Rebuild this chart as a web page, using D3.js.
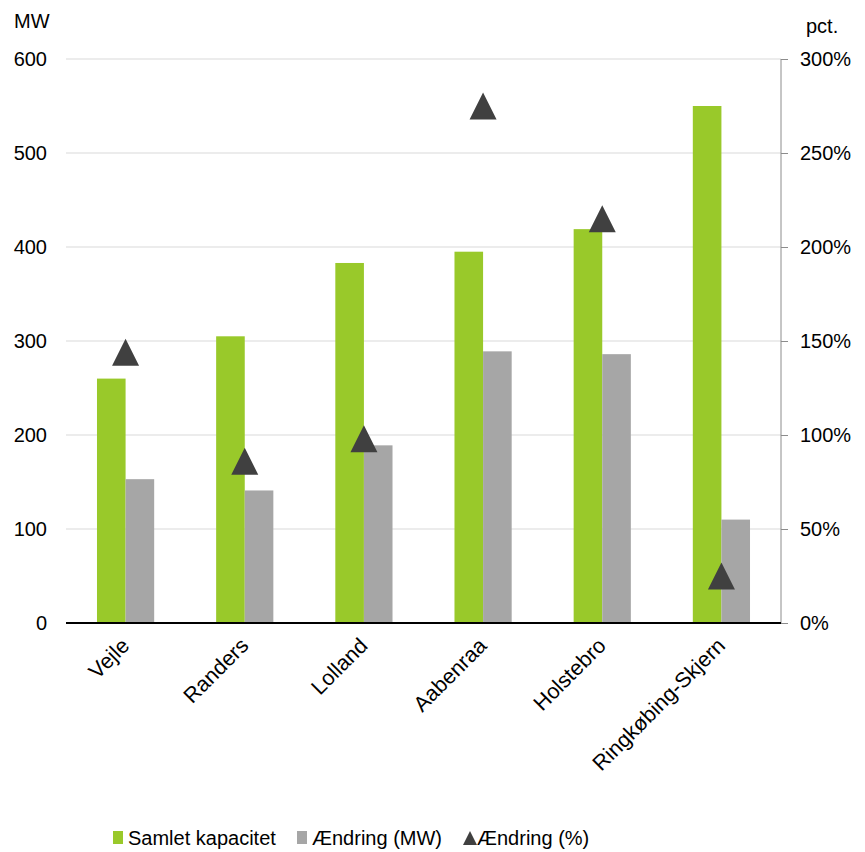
<!DOCTYPE html>
<html>
<head>
<meta charset="utf-8">
<script src="https://cdn.jsdelivr.net/npm/d3@7/dist/d3.min.js"></script>
<style>
  html, body { margin: 0; padding: 0; background: #fff; }
  svg { display: block; font-family: "Liberation Sans", Arial, sans-serif; }
</style>
</head>
<body>
<svg id="chart" width="865" height="852"></svg>
<script>
// Municipalities and their wind capacity figures
const categories = ["Vejle", "Randers", "Lolland", "Aabenraa", "Holstebro", "Ringkøbing-Skjern"];
const totalCapacity = [260, 305, 383, 395, 419, 550];   // MW
const changeMW = [153, 141, 189, 289, 286, 110];        // MW
const changePct = [144, 86, 98, 275, 215, 25];          // %
const leftTicks = [0, 100, 200, 300, 400, 500, 600];
const rightTicks = [0, 50, 100, 150, 200, 250, 300];
const seriesNames = ["Samlet kapacitet", "Ændring (MW)", "Ændring (%)"];

const colors = { total: "#99C92A", change: "#A6A6A6", pct: "#404040" };

const svg = d3.select("#chart");
const plotLeft = 66, plotRight = 781, plotTop = 59, plotBottom = 623;

const x = d3.scaleBand().domain(categories).range([plotLeft, plotRight]).padding(0);
const bw = x.bandwidth();
const x1 = d3.scaleBand().domain(["total", "change"]).range([bw * 0.26, bw * 0.74]).padding(0);
const y = d3.scaleLinear().domain([0, 600]).range([plotBottom, plotTop]);
const y2 = d3.scaleLinear().domain([0, 300]).range([plotBottom, plotTop]);

// Gridlines
svg.append("g").selectAll("line").data(leftTicks.filter(t => t > 0)).join("line")
  .attr("x1", plotLeft).attr("x2", plotRight)
  .attr("y1", d => y(d)).attr("y2", d => y(d))
  .attr("stroke", "#D9D9D9").attr("stroke-width", 1.2);

// Left axis labels
const yAxis = d3.axisLeft(y).tickValues(leftTicks).tickSize(0).tickPadding(19);
const gl = svg.append("g").attr("transform", `translate(${plotLeft},0)`).call(yAxis);
gl.select(".domain").remove();
gl.selectAll("text").attr("font-size", 20).attr("fill", "#000").attr("font-family", "Liberation Sans, Arial, sans-serif");

// Right axis
const yAxisR = d3.axisRight(y2).tickValues(rightTicks).tickSize(7).tickPadding(12).tickFormat(d => d + "%");
const gr = svg.append("g").attr("transform", `translate(${plotRight},0)`).call(yAxisR);
gr.select(".domain").attr("stroke", "#8C8C8C").attr("d", `M0,${plotTop}V${plotBottom}`);
gr.selectAll(".tick line").attr("stroke", "#8C8C8C");
gr.selectAll("text").attr("font-size", 20).attr("fill", "#000").attr("font-family", "Liberation Sans, Arial, sans-serif");

// Axis unit titles
svg.append("text").attr("x", 14).attr("y", 28).attr("font-size", 20).text("MW");
svg.append("text").attr("x", 806).attr("y", 33).attr("font-size", 20).text("pct.");

// Bars
const rows = categories.map((c, i) => ({ c, total: totalCapacity[i], change: changeMW[i], pct: changePct[i] }));
const groups = svg.append("g").selectAll("g").data(rows).join("g")
  .attr("transform", d => `translate(${x(d.c)},0)`);
groups.append("rect")
  .attr("x", x1("total")).attr("width", x1.bandwidth())
  .attr("y", d => y(d.total)).attr("height", d => y(0) - y(d.total))
  .attr("fill", colors.total);
groups.append("rect")
  .attr("x", x1("change")).attr("width", x1.bandwidth())
  .attr("y", d => y(d.change)).attr("height", d => y(0) - y(d.change))
  .attr("fill", colors.change);

// Baseline
svg.append("line").attr("x1", plotLeft).attr("x2", plotRight).attr("y1", plotBottom).attr("y2", plotBottom)
  .attr("stroke", "#000").attr("stroke-width", 2);

// Percentage markers
const tri = (s) => `M0,${-s / 2}L${s / 2},${s / 2}L${-s / 2},${s / 2}Z`;
svg.append("g").selectAll("path").data(rows).join("path")
  .attr("d", tri(27))
  .attr("transform", d => `translate(${x(d.c) + bw / 2},${y2(d.pct)})`)
  .attr("fill", colors.pct);

// Category labels
svg.append("g").selectAll("text").data(categories).join("text")
  .attr("transform", d => `translate(${x(d) + bw / 2 + 5},${plotBottom + 24}) rotate(-45)`)
  .attr("text-anchor", "end")
  .attr("font-size", 21.5)
  .text(d => d);

// Legend
const legend = svg.append("g");
legend.append("rect").attr("x", 113).attr("y", 831).attr("width", 10).attr("height", 13).attr("fill", colors.total);
legend.append("text").attr("x", 128).attr("y", 845).attr("font-size", 20).text(seriesNames[0]);
legend.append("rect").attr("x", 297).attr("y", 831).attr("width", 10).attr("height", 13).attr("fill", colors.change);
legend.append("text").attr("x", 312).attr("y", 845).attr("font-size", 20).text(seriesNames[1]);
legend.append("path").attr("d", tri(14)).attr("transform", "translate(470,838)").attr("fill", colors.pct);
legend.append("text").attr("x", 477).attr("y", 845).attr("font-size", 20).text(seriesNames[2]);
</script>
</body>
</html>
